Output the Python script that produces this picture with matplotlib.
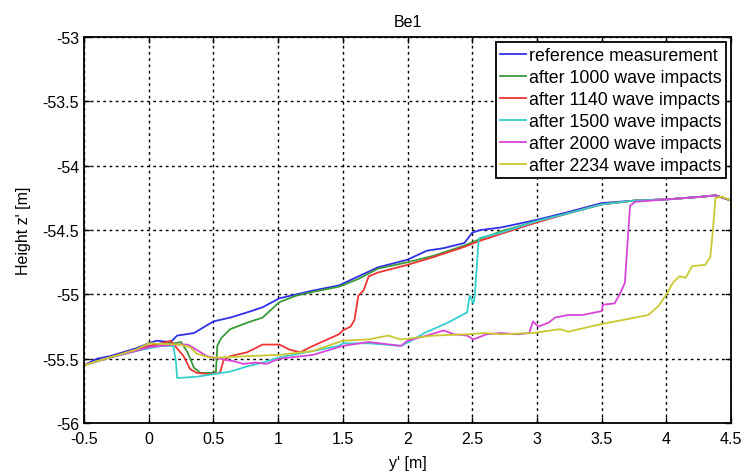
import matplotlib
matplotlib.use("Agg")
import matplotlib.pyplot as plt

plt.rcParams["font.family"] = ["Liberation Sans", "DejaVu Sans"]

# profile y' [m] / height z' [m]
ref_y = [-0.5, -0.4, -0.3, -0.2, -0.1, 0.0, 0.06, 0.17, 0.22, 0.35, 0.5, 0.63,
         0.76, 0.88, 1.01, 1.14, 1.27, 1.47, 1.62, 1.77, 2.0, 2.15, 2.28, 2.44,
         2.5, 2.56, 2.72, 3.0, 3.24, 3.5, 3.76, 4.02, 4.28, 4.38, 4.5]
ref_z = [-55.55, -55.5, -55.48, -55.45, -55.42, -55.38, -55.36, -55.37, -55.32,
         -55.3, -55.21, -55.18, -55.14, -55.1, -55.03, -55.0, -54.97, -54.93,
         -54.86, -54.79, -54.73, -54.66, -54.64, -54.6, -54.52, -54.5, -54.48,
         -54.42, -54.36, -54.29, -54.27, -54.26, -54.24, -54.23, -54.27]

w1000_y = [-0.5, -0.3, -0.1, 0.0, 0.1, 0.2, 0.25, 0.3, 0.35, 0.4, 0.5, 0.52,
           0.53, 0.56, 0.63, 0.76, 0.88, 1.01, 1.14, 1.27, 1.47, 1.62, 1.77,
           2.0, 2.2, 2.44, 2.56, 2.72, 3.0, 3.24, 3.5, 3.76, 4.02, 4.28, 4.38, 4.5]
w1000_z = [-55.55, -55.49, -55.44, -55.41, -55.38, -55.38, -55.37, -55.45,
           -55.57, -55.61, -55.61, -55.6, -55.4, -55.34, -55.27, -55.22, -55.18,
           -55.06, -55.01, -54.98, -54.94, -54.88, -54.8, -54.75, -54.7, -54.62,
           -54.57, -54.51, -54.43, -54.37, -54.3, -54.27, -54.26, -54.24, -54.23,
           -54.27]

w1140_y = [-0.5, -0.3, -0.1, 0.0, 0.1, 0.17, 0.27, 0.32, 0.37, 0.47, 0.55,
           0.58, 0.63, 0.76, 0.88, 1.01, 1.09, 1.17, 1.27, 1.47, 1.5, 1.56,
           1.59, 1.62, 1.66, 1.7, 1.77, 2.0, 2.2, 2.44, 2.54, 2.72, 3.0, 3.24,
           3.5, 3.76, 4.02, 4.28, 4.38, 4.5]
w1140_z = [-55.55, -55.49, -55.43, -55.4, -55.38, -55.36, -55.48, -55.58,
           -55.61, -55.62, -55.61, -55.51, -55.48, -55.45, -55.39, -55.39,
           -55.43, -55.45, -55.4, -55.31, -55.28, -55.25, -55.2, -55.01, -54.97,
           -54.86, -54.83, -54.77, -54.71, -54.63, -54.59, -54.53, -54.44,
           -54.37, -54.3, -54.27, -54.26, -54.24, -54.23, -54.27]

w1500_y = [-0.5, -0.3, -0.1, 0.0, 0.1, 0.19, 0.21, 0.22, 0.37, 0.5, 0.63,
           0.76, 0.88, 1.01, 1.27, 1.47, 1.5, 1.7, 1.95, 2.03, 2.13, 2.31, 2.46,
           2.48, 2.51, 2.52, 2.55, 2.56, 2.72, 3.0, 3.24, 3.5, 3.76, 4.02, 4.28,
           4.38, 4.5]
w1500_z = [-55.55, -55.49, -55.44, -55.42, -55.4, -55.4, -55.52, -55.65,
           -55.64, -55.62, -55.6, -55.56, -55.53, -55.49, -55.44, -55.4, -55.38,
           -55.38, -55.4, -55.36, -55.3, -55.22, -55.14, -55.01, -55.07, -55.01,
           -54.57, -54.56, -54.52, -54.43, -54.37, -54.3, -54.27, -54.26, -54.24,
           -54.23, -54.27]

w2000_y = [-0.5, -0.3, -0.1, 0.0, 0.2, 0.3, 0.32, 0.45, 0.55, 0.66, 0.73,
           0.83, 0.91, 1.01, 1.27, 1.5, 1.7, 1.95, 2.0, 2.15, 2.28, 2.36, 2.46,
           2.51, 2.61, 2.72, 2.86, 2.94, 2.97, 3.01, 3.09, 3.14, 3.24, 3.35, 3.5,
           3.51, 3.6, 3.64, 3.68, 3.7, 3.72, 3.76, 4.02, 4.28, 4.38, 4.5]
w2000_z = [-55.55, -55.49, -55.44, -55.41, -55.39, -55.39, -55.4, -55.48,
           -55.5, -55.52, -55.54, -55.53, -55.54, -55.5, -55.47, -55.4, -55.37,
           -55.4, -55.36, -55.32, -55.28, -55.31, -55.32, -55.35, -55.31, -55.3,
           -55.31, -55.3, -55.21, -55.25, -55.22, -55.18, -55.16, -55.16, -55.13,
           -55.08, -55.07, -55.0, -54.91, -54.6, -54.31, -54.28, -54.26, -54.24,
           -54.23, -54.27]

w2234_y = [-0.5, -0.3, -0.1, 0.0, 0.24, 0.32, 0.37, 0.47, 0.55, 0.76, 1.01,
           1.27, 1.47, 1.5, 1.7, 1.85, 1.95, 2.2, 2.46, 2.6, 2.72, 2.97, 3.18,
           3.24, 3.5, 3.76, 3.86, 3.94, 4.0, 4.05, 4.1, 4.15, 4.2, 4.3, 4.34,
           4.36, 4.38, 4.43, 4.5]
w2234_z = [-55.55, -55.49, -55.43, -55.38, -55.39, -55.41, -55.46, -55.49,
           -55.49, -55.48, -55.47, -55.44, -55.37, -55.36, -55.35, -55.32,
           -55.35, -55.32, -55.31, -55.3, -55.31, -55.3, -55.27, -55.29, -55.23,
           -55.18, -55.16, -55.09, -55.0, -54.91, -54.86, -54.87, -54.78, -54.77,
           -54.71, -54.5, -54.25, -54.24, -54.27]

labels = ["reference measurement", "after 1000 wave impacts",
          "after 1140 wave impacts", "after 1500 wave impacts",
          "after 2000 wave impacts", "after 2234 wave impacts"]
colors = ["#3030e8", "#3a9a3a", "#ee3535", "#35cfcf", "#d845d8", "#c8c832"]

x_ticks = [-0.5, 0, 0.5, 1, 1.5, 2, 2.5, 3, 3.5, 4, 4.5]
x_tick_labels = ["-0.5", "0", "0.5", "1", "1.5", "2", "2.5", "3", "3.5", "4", "4.5"]
y_ticks = [-56, -55.5, -55, -54.5, -54, -53.5, -53]
y_tick_labels = ["-56", "-55.5", "-55", "-54.5", "-54", "-53.5", "-53"]

series = [(ref_y, ref_z), (w1000_y, w1000_z), (w1140_y, w1140_z),
          (w1500_y, w1500_z), (w2000_y, w2000_z), (w2234_y, w2234_z)]

fig = plt.figure(figsize=(7.42, 4.77), dpi=100)
ax = fig.add_axes([0.1132, 0.111, 0.872, 0.809])

for (xs, zs), lab, col in zip(series, labels, colors):
    ax.plot(xs, zs, color=col, lw=1.3, label=lab)

ax.set_xlim(-0.5, 4.5)
ax.set_ylim(-56, -53)
ax.set_xticks(x_ticks)
ax.set_xticklabels(x_tick_labels)
ax.set_yticks(y_ticks)
ax.set_yticklabels(y_tick_labels)
ax.tick_params(direction="in", top=True, right=True, length=4, width=1,
               labelsize=11.5, colors="black")
ax.tick_params(axis="x", pad=6)
ax.grid(True, color="black", linestyle=(0, (2, 2.5)), lw=1.0)
for sp in ax.spines.values():
    sp.set_linewidth(1.3)

ax.set_title("Be1", fontsize=11.5, pad=8)
ax.set_xlabel("y' [m]", fontsize=11.5, labelpad=6)
ax.set_ylabel("Height z' [m]", fontsize=11.5, labelpad=8)

leg = ax.legend(loc="upper right", fontsize=12.8, handlelength=1.45,
                handletextpad=0.15, labelspacing=0.28, borderpad=0.25,
                borderaxespad=0.3, fancybox=False, framealpha=1,
                edgecolor="black")
leg.get_frame().set_linewidth(1.3)

fig.savefig("out.png", dpi=100)
